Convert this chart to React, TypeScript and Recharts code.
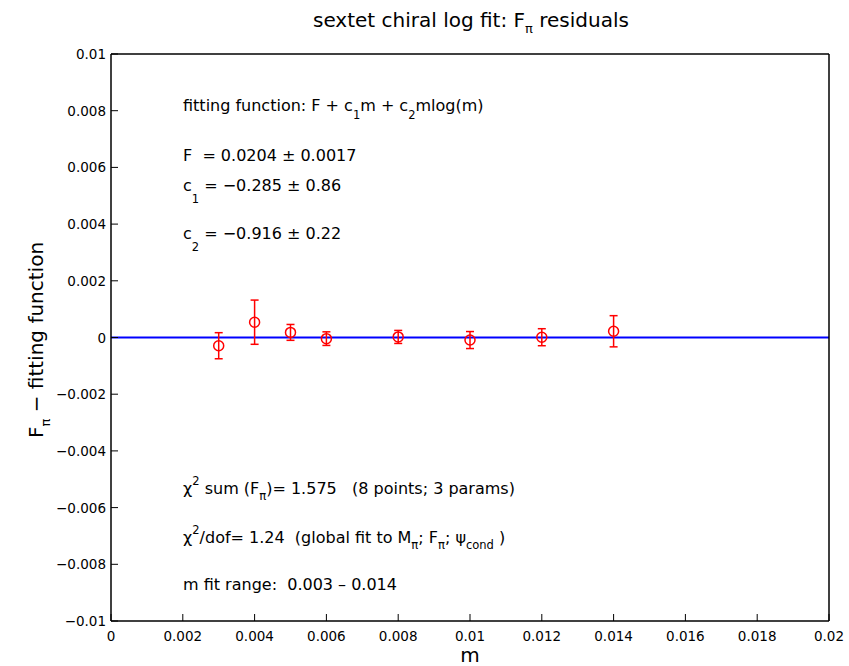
import React from 'react';
import {
  ScatterChart,
  Scatter,
  XAxis,
  YAxis,
  ErrorBar,
  ReferenceLine,
} from 'recharts';

// Residual data
const M_VALUES = [0.003, 0.004, 0.005, 0.006, 0.008, 0.01, 0.012, 0.014];
const RESIDUALS = [-0.00029, 0.00054, 0.00018, -0.00004, 0.00002, -0.00009, 0.00001, 0.00022];
const ERRORS = [0.00046, 0.00078, 0.00028, 0.00024, 0.00023, 0.0003, 0.0003, 0.00055];

const X_TICKS = [0, 0.002, 0.004, 0.006, 0.008, 0.01, 0.012, 0.014, 0.016, 0.018, 0.02];
const Y_TICKS = [-0.01, -0.008, -0.006, -0.004, -0.002, 0, 0.002, 0.004, 0.006, 0.008, 0.01];

const W = 849;
const H = 666;
const FONT = '"DejaVu Sans", "Liberation Sans", sans-serif';

const COLORS = {
  axis: '#000000',
  point: '#ff0000',
  fit: '#0000ff',
};

const data = M_VALUES.map((m, i) => ({ m, r: RESIDUALS[i], err: ERRORS[i] }));

const fmt = (v: number) => String(v).replace('-', '\u2212');

const TICK_LEN = 7;

function LeftTick({ x, y, payload }: any) {
  return (
    <g>
      <line x1={x} x2={x + TICK_LEN} y1={y} y2={y} stroke={COLORS.axis} strokeWidth={1} />
      <text x={x - 5} y={y + 5} textAnchor="end" fontSize={13.5} fontFamily={FONT} fill="#000">
        {fmt(payload.value)}
      </text>
    </g>
  );
}

function BottomTick({ x, y, payload }: any) {
  return (
    <g>
      <line x1={x} x2={x} y1={y} y2={y - TICK_LEN} stroke={COLORS.axis} strokeWidth={1} />
      <text x={x} y={y + 20} textAnchor="middle" fontSize={13.5} fontFamily={FONT} fill="#000">
        {fmt(payload.value)}
      </text>
    </g>
  );
}

function RightTick({ x, y }: any) {
  return <line x1={x} x2={x - TICK_LEN} y1={y} y2={y} stroke={COLORS.axis} strokeWidth={1} />;
}

function TopTick({ x, y }: any) {
  return <line x1={x} x2={x} y1={y} y2={y + TICK_LEN} stroke={COLORS.axis} strokeWidth={1} />;
}

function Circle({ cx, cy }: any) {
  return <circle cx={cx} cy={cy} r={5} fill="none" stroke={COLORS.point} strokeWidth={1.5} />;
}

// text with sub/superscripts: [text, vertical offset]
type Seg = [string, number?];

function Rich({ x, y, segs, size, small }: { x: number; y: number; segs: Seg[]; size: number; small: number }) {
  let cur = 0;
  return (
    <text x={x} y={y} fontSize={size} fontFamily={FONT} fill="#000" style={{ whiteSpace: 'pre' }}>
      {segs.map(([t, off = 0], i) => {
        const dy = off - cur;
        cur = off;
        return (
          <tspan key={i} dy={dy} fontSize={off ? small : size}>
            {t}
          </tspan>
        );
      })}
    </text>
  );
}

function Annotations() {
  const ax = 183;
  const fs = 16;
  const sm = 11.5;
  return (
    <svg
      width={W}
      height={H}
      style={{ position: 'absolute', left: 0, top: 0, pointerEvents: 'none' }}
    >
      <Rich
        x={470 - 157}
        y={27}
        size={20}
        small={13}
        segs={[['sextet chiral log fit: F'], ['\u03c0', 6], [' residuals']]}
      />
      <g transform="rotate(-90, 43, 339)">
        <Rich
          x={43 - 99}
          y={339}
          size={20}
          small={13}
          segs={[['F'], ['\u03c0', 7], [' \u2212 fitting function']]}
        />
      </g>
      <text x={470} y={662} textAnchor="middle" fontSize={20} fontFamily={FONT} fill="#000">
        m
      </text>

      <Rich
        x={ax}
        y={111}
        size={fs}
        small={sm}
        segs={[['fitting function: F + c'], ['1', 8], ['m + c'], ['2', 8], ['mlog(m)']]}
      />
      <Rich x={ax} y={161} size={fs} small={sm} segs={[['F  = 0.0204 \u00b1 0.0017']]} />
      <Rich x={ax} y={191} size={fs} small={sm} segs={[['c'], ['1', 12], [' = \u22120.285 \u00b1 0.86']]} />
      <Rich x={ax} y={239} size={fs} small={sm} segs={[['c'], ['2', 12], [' = \u22120.916 \u00b1 0.22']]} />

      <Rich
        x={ax}
        y={494}
        size={fs}
        small={sm}
        segs={[['\u03c7'], ['2', -9], [' sum (F'], ['\u03c0', 6], [')= 1.575   (8 points; 3 params)']]}
      />
      <Rich
        x={ax}
        y={543}
        size={fs}
        small={sm}
        segs={[
          ['\u03c7'],
          ['2', -9],
          ['/dof= 1.24  (global fit to M'],
          ['\u03c0', 6],
          ['; F'],
          ['\u03c0', 6],
          ['; \u03c8'],
          ['cond', 6],
          [' )'],
        ]}
      />
      <Rich x={ax} y={590} size={fs} small={sm} segs={[['m fit range:  0.003 \u2013 0.014']]} />
    </svg>
  );
}

export default function App() {
  return (
    <div style={{ position: 'absolute', left: 0, top: 0, width: W, height: H, background: '#fff' }}>
      <ScatterChart width={W} height={H} margin={{ top: 53, right: 19, bottom: 44, left: 110 }}>
        <XAxis
          type="number"
          dataKey="m"
          domain={[0, 0.02]}
          ticks={X_TICKS}
          height={1}
          tickSize={0}
          tickMargin={0}
          tickLine={false}
          tick={<BottomTick />}
          axisLine={{ stroke: COLORS.axis, strokeWidth: 1.5 }}
          allowDataOverflow
        />
        <XAxis
          xAxisId="top"
          orientation="top"
          type="number"
          domain={[0, 0.02]}
          ticks={X_TICKS}
          height={1}
          tickSize={0}
          tickMargin={0}
          tickLine={false}
          tick={<TopTick />}
          axisLine={{ stroke: COLORS.axis, strokeWidth: 1.5 }}
        />
        <YAxis
          type="number"
          dataKey="r"
          domain={[-0.01, 0.01]}
          ticks={Y_TICKS}
          width={1}
          tickSize={0}
          tickMargin={0}
          tickLine={false}
          tick={<LeftTick />}
          axisLine={{ stroke: COLORS.axis, strokeWidth: 1.5 }}
          allowDataOverflow
        />
        <YAxis
          yAxisId="right"
          orientation="right"
          type="number"
          domain={[-0.01, 0.01]}
          ticks={Y_TICKS}
          width={1}
          tickSize={0}
          tickMargin={0}
          tickLine={false}
          tick={<RightTick />}
          axisLine={{ stroke: COLORS.axis, strokeWidth: 1.5 }}
        />
        <ReferenceLine y={0} stroke={COLORS.fit} strokeWidth={2} />
        <Scatter data={data} shape={<Circle />} isAnimationActive={false}>
          <ErrorBar
            dataKey="err"
            direction="y"
            width={4}
            stroke={COLORS.point}
            strokeWidth={1.5}
            isAnimationActive={false}
          />
        </Scatter>
      </ScatterChart>
      <Annotations />
    </div>
  );
}
